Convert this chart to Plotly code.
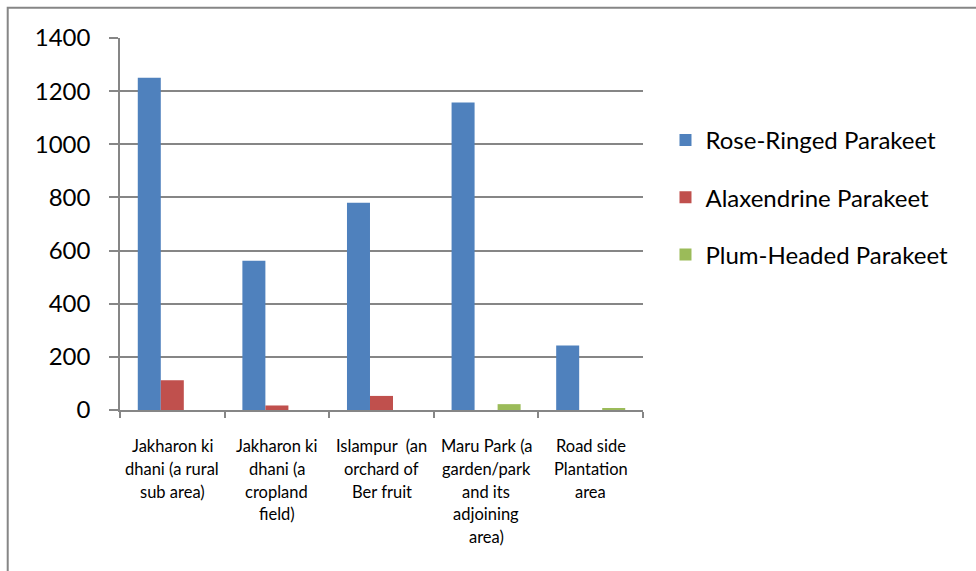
import plotly.graph_objects as go

categories = [
    "Jakharon ki<br>dhani (a rural<br>sub area)",
    "Jakharon ki<br>dhani (a<br>cropland<br>field)",
    "Islampur\u00a0 (an<br>orchard of<br>Ber fruit",
    "Maru Park (a<br>garden/park<br>and its<br>adjoining<br>area)",
    "Road side<br>Plantation<br>area",
]
series_names = ["Rose-Ringed Parakeet", "Alaxendrine Parakeet", "Plum-Headed Parakeet"]
rose_ringed = [1250, 562, 780, 1157, 243]
alexandrine = [112, 17, 53, 0, 0]
plum_headed = [0, 0, 0, 22, 7]
y_ticks = [0, 200, 400, 600, 800, 1000, 1200, 1400]

colors = ["#4F81BD", "#C0504D", "#9BBB59"]
FONT = "Lato, 'Open Sans', sans-serif"
GRID = "#868686"

fig = go.Figure()
for i, (name, vals) in enumerate(zip(series_names, [rose_ringed, alexandrine, plum_headed])):
    fig.add_trace(go.Bar(
        x=list(range(len(categories))), y=vals, name=name,
        marker=dict(color=colors[i], line=dict(width=0)),
        legendgroup=f"g{i}",
    ))

# Category labels, one line per annotation to match the wide line spacing
annotations = []
for ci, label in enumerate(categories):
    for li, line in enumerate(label.split("<br>")):
        annotations.append(dict(
            x=ci, y=0, xref="x", yref="y", text=line, showarrow=False,
            yanchor="top", xanchor="center", yshift=-24 - 22.8 * li,
            font=dict(family=FONT, size=16.5, color="#000000"),
        ))

fig.update_layout(
    width=976, height=571,
    margin=dict(l=119.5, r=332.5, t=38, b=161.3),
    paper_bgcolor="white", plot_bgcolor="white",
    barmode="group", bargap=0.34, bargroupgap=0,
    font=dict(family=FONT, color="#000000"),
    showlegend=True,
    legend=dict(
        x=1.043, xanchor="left", y=0.785, yanchor="top",
        font=dict(family=FONT, size=24, color="#000000"),
        tracegroupgap=23, traceorder="grouped",
        bgcolor="rgba(0,0,0,0)",
    ),
    annotations=annotations,
    shapes=[dict(
        type="rect", xref="paper", yref="paper",
        x0=-0.2147, x1=1.7, y0=-0.5, y1=1.081,
        line=dict(color=GRID, width=2), fillcolor="rgba(0,0,0,0)", layer="below",
    )],
)
fig.update_xaxes(
    type="linear", range=[-0.5, len(categories) - 0.5],
    tickvals=[i + 0.5 for i in range(-1, len(categories))],
    showticklabels=False,
    ticks="outside", ticklen=6, tickcolor=GRID, tickwidth=1.5,
    showline=True, linecolor=GRID, linewidth=1.5,
    showgrid=False, zeroline=False,
)
fig.update_yaxes(
    range=[0, 1400], tickvals=y_ticks,
    ticks="outside", ticklen=9, tickcolor=GRID, tickwidth=1.5,
    showline=True, linecolor=GRID, linewidth=1.5,
    showgrid=True, gridcolor=GRID, gridwidth=1.5, zeroline=False,
    tickfont=dict(family=FONT, size=24, color="#000000"),
    ticklabelstandoff=14,
)

fig.write_html("out.html")
